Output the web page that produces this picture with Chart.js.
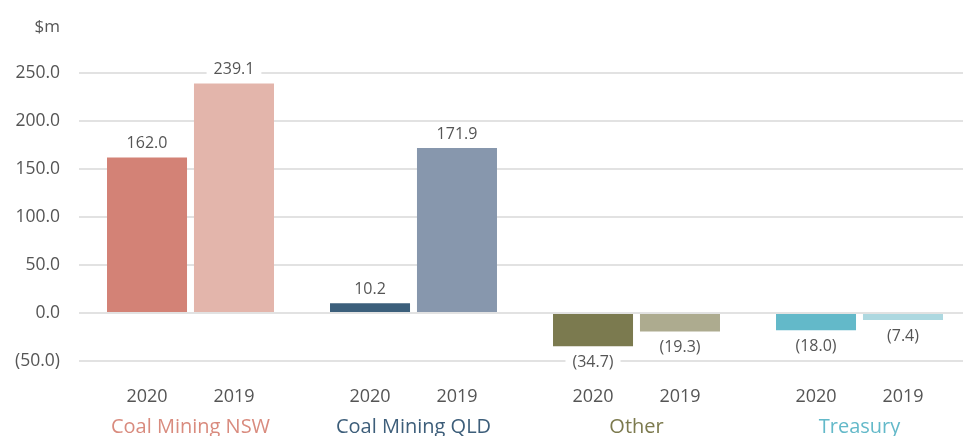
<!DOCTYPE html>
<html>
<head>
<meta charset="utf-8">
<script src="https://cdn.jsdelivr.net/npm/chart.js@4"></script>
<style>
  html, body { margin: 0; padding: 0; background: #fff; overflow: hidden; }
  #wrap { width: 971px; height: 436px; }
</style>
</head>
<body>
<div id="wrap"><canvas id="chart"></canvas></div>
<script>
  // Data
  const groups = ["Coal Mining NSW", "Coal Mining QLD", "Other", "Treasury"];
  const years = ["2020", "2019"];
  const values2020 = [162.0, 10.2, -34.7, -18.0];
  const values2019 = [239.1, 171.9, -19.3, -7.4];
  const yMin = -50, yMax = 250, yStep = 50;

  // Colours
  const colors2020 = ["#d38276", "#3c5f7b", "#7b7a4f", "#63b9c9"];
  const colors2019 = ["#e3b5ab", "#8797ad", "#adab8f", "#add8e0"];
  const groupColors = ["#d98b7e", "#3d5e7a", "#7c7a4e", "#63b9c9"];

  const FONT = "'Open Sans', sans-serif";
  const TEXT = "#555";

  const fmt = v => v < 0 ? "(" + Math.abs(v).toFixed(1) + ")" : v.toFixed(1);

  // value labels + year labels + unit
  const labelsPlugin = {
    id: "labels",
    afterDatasetsDraw(chart) {
      const ctx = chart.ctx;
      ctx.save();
      ctx.textAlign = "center";
      ctx.textBaseline = "middle";
      chart.data.datasets.forEach((ds, i) => {
        chart.getDatasetMeta(i).data.forEach((bar, j) => {
          const v = ds.data[j];
          const txt = fmt(v);
          const y = v >= 0 ? bar.y - 14 : bar.y + 16;
          ctx.font = "16px " + FONT;
          const w = ctx.measureText(txt).width;
          ctx.fillStyle = "#fff";
          ctx.fillRect(bar.x - w / 2 - 7, y - 9, w + 14, 18);
          ctx.fillStyle = TEXT;
          ctx.fillText(txt, bar.x, y);
          // year under each bar
          ctx.font = "18px " + FONT;
          ctx.fillText(years[i], bar.x, 397);
        });
      });
      const ys = chart.scales.y;
      ctx.font = "17px " + FONT;
      ctx.textAlign = "right";
      ctx.fillText("$m", ys.right - 19, 27);
      ctx.restore();
    }
  };

  new Chart(document.getElementById("chart"), {
    type: "bar",
    data: {
      labels: groups,
      datasets: [
        { label: years[0], data: values2020, backgroundColor: colors2020 },
        { label: years[1], data: values2019, backgroundColor: colors2019 }
      ]
    },
    options: {
      responsive: true,
      maintainAspectRatio: false,
      animation: false,
      layout: { padding: { top: 73, right: 0, left: 0, bottom: 0 } },
      datasets: { bar: { categoryPercentage: 0.78, barPercentage: 0.92 } },
      plugins: {
        legend: { display: false },
        tooltip: { enabled: false }
      },
      scales: {
        y: {
          min: yMin,
          max: yMax,
          afterFit: s => { s.width = 79; },
          ticks: {
            stepSize: yStep,
            padding: 19,
            color: TEXT,
            font: { family: FONT, size: 17.5 },
            callback: v => fmt(v)
          },
          border: { display: false },
          grid: { color: "#e2e2e2", lineWidth: 2, drawTicks: false }
        },
        x: {
          afterFit: s => { s.height = 75; },
          ticks: {
            padding: 46,
            color: ctx => groupColors[ctx.index],
            font: { family: FONT, size: 20 }
          },
          border: { display: false },
          grid: { display: false }
        }
      }
    },
    plugins: [labelsPlugin]
  });
</script>
</body>
</html>
